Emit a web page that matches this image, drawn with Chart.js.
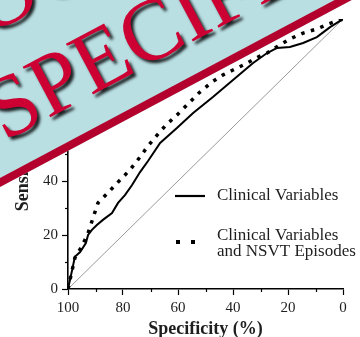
<!DOCTYPE html>
<html>
<head>
<meta charset="utf-8">
<script src="https://cdn.jsdelivr.net/npm/chart.js@4.4.1/dist/chart.umd.min.js"></script>
<style>
  html, body { margin: 0; padding: 0; background: #fff; }
  canvas { display: block; }
</style>
</head>
<body>
<canvas id="rocChart" width="360" height="337"></canvas>
<script>
// ROC curves (specificity axis runs 100 -> 0)
const specClinical = [100, 98.5, 97.5, 95.6, 93.5, 92.7, 91.3, 89.5, 87.3, 84.0, 81.8, 79.3, 76.7, 73.8, 70.9, 66.5, 60.4, 54.5, 47.3, 40.0, 32.7, 27.6, 24.0, 19.3, 14.5, 9.5, 4.7, 0];
const sensClinical = [0, 7.0, 11.9, 13.7, 17.0, 20.0, 21.9, 23.7, 25.6, 28.1, 31.9, 34.8, 38.5, 43.3, 47.4, 54.1, 59.6, 65.2, 71.1, 77.4, 83.7, 87.4, 89.3, 89.6, 91.1, 93.3, 97.0, 100];

const specNsvt = [100, 97.5, 94.9, 92.7, 90.9, 89.1, 85.5, 81.8, 77.5, 73.8, 70.9, 67.6, 64.4, 60.0, 56.0, 52.4, 47.6, 43.6, 40.0, 35.6, 30.9, 27.6, 23.6, 19.3, 14.5, 9.5, 5.5, 0];
const sensNsvt = [0, 11.5, 15.9, 20.7, 26.3, 31.9, 35.6, 39.6, 44.1, 48.9, 53.0, 57.0, 60.7, 64.8, 68.9, 72.6, 76.7, 79.3, 81.1, 83.3, 85.9, 87.4, 90.0, 92.6, 94.8, 96.3, 98.1, 100];

const chanceSpec = [100, 0];
const chanceSens = [0, 100];

const majorTicks = [0, 20, 40, 60, 80, 100];
const minorTicks = [10, 30, 50, 70, 90];

const seriesLabels = ['Clinical Variables', ['Clinical Variables', 'and NSVT Episodes']];
const bannerLines = ['COUNTRY', 'SPECIFIC'];

const SERIF = '"Liberation Serif", "Times New Roman", serif';
const INK = '#1e1e1e';

const toPoints = (xs, ys) => xs.map((x, i) => ({ x, y: ys[i] }));

// minor ticks, legend and the stamp banner drawn on top
const overlay = {
  id: 'overlay',
  afterDraw(chart) {
    const { ctx, chartArea } = chart;
    const xs = chart.scales.x, ys = chart.scales.y;

    ctx.save();
    ctx.strokeStyle = '#000';
    ctx.lineWidth = 1.2;
    minorTicks.forEach(v => {
      const px = Math.round(xs.getPixelForValue(v)) + 0.5;
      ctx.beginPath();
      ctx.moveTo(px, chartArea.bottom);
      ctx.lineTo(px, chartArea.bottom + 3);
      ctx.stroke();
      const py = Math.round(ys.getPixelForValue(v)) + 0.5;
      ctx.beginPath();
      ctx.moveTo(chartArea.left, py);
      ctx.lineTo(chartArea.left - 3, py);
      ctx.stroke();
    });

    // legend
    ctx.lineWidth = 2.2;
    ctx.beginPath();
    ctx.moveTo(175, 196);
    ctx.lineTo(205, 196);
    ctx.stroke();
    ctx.fillStyle = '#000';
    ctx.fillRect(176, 240, 4, 4);
    ctx.fillRect(191, 240, 4, 4);

    ctx.fillStyle = INK;
    ctx.font = '17px ' + SERIF;
    ctx.textBaseline = 'middle';
    ctx.textAlign = 'left';
    ctx.fillText(seriesLabels[0], 217, 196);
    ctx.fillText(seriesLabels[1][0], 217, 236);
    ctx.fillText(seriesLabels[1][1], 217, 252);
    ctx.restore();

    drawBanner(ctx);
  }
};

function drawBanner(ctx) {
  ctx.save();
  ctx.translate(0, 187);
  ctx.rotate(-28 * Math.PI / 180);
  ctx.fillStyle = '#b9dfe3';
  ctx.fillRect(-300, -500, 1400, 500);
  ctx.fillStyle = '#b3002c';
  ctx.fillRect(-300, -8, 1400, 8);

  ctx.font = '88px ' + SERIF;
  ctx.textBaseline = 'alphabetic';
  ctx.textAlign = 'left';
  ctx.shadowColor = 'rgba(0,0,0,0.85)';
  ctx.shadowBlur = 3;
  ctx.shadowOffsetX = 3;
  ctx.shadowOffsetY = 3;
  ctx.fillStyle = '#cc0033';
  ctx.fillText(bannerLines[0], 2, -139);
  ctx.fillText(bannerLines[1], 25, -38);
  ctx.restore();
}

function axis(titleText, fitSize, isX) {
  return {
    type: 'linear',
    min: 0,
    max: 100,
    reverse: isX,
    afterBuildTicks: s => { s.ticks = majorTicks.map(v => ({ value: v })); },
    afterFit: s => { if (isX) s.height = fitSize; else s.width = fitSize; },
    ticks: {
      color: INK,
      font: { family: SERIF, size: 15 },
      padding: 4,
      maxRotation: 0
    },
    grid: {
      display: true,
      drawOnChartArea: false,
      drawTicks: true,
      tickLength: 6,
      tickWidth: 1.2,
      tickColor: '#000'
    },
    border: { display: true, color: '#000', width: 1.6 },
    title: {
      display: true,
      text: titleText,
      color: INK,
      font: { family: SERIF, size: 18, weight: 'bold', lineHeight: isX ? 0.8 : 1.2 },
      padding: isX ? { top: 0, bottom: 0 } : { top: 13, bottom: 0 }
    }
  };
}

new Chart(document.getElementById('rocChart'), {
  type: 'line',
  data: {
    datasets: [
      {
        label: 'Clinical Variables',
        data: toPoints(specClinical, sensClinical),
        borderColor: '#000',
        borderWidth: 2,
        pointRadius: 0,
        tension: 0
      },
      {
        label: 'Clinical Variables and NSVT Episodes',
        data: toPoints(specNsvt, sensNsvt),
        borderColor: '#000',
        borderWidth: 3.5,
        borderDash: [3.5, 6.5],
        borderCapStyle: 'butt',
        pointRadius: 0,
        tension: 0
      },
      {
        label: 'Chance',
        data: toPoints(chanceSpec, chanceSens),
        borderColor: '#9a9a9a',
        borderWidth: 1,
        pointRadius: 0,
        tension: 0
      }
    ]
  },
  options: {
    responsive: false,
    animation: false,
    devicePixelRatio: 1,
    layout: { padding: { top: 19, right: 17, left: 0, bottom: 0 } },
    scales: {
      x: axis('Specificity (%)', 48, true),
      y: axis('Sensitivity (%)', 68, false)
    },
    plugins: {
      legend: { display: false },
      tooltip: { enabled: false }
    }
  },
  plugins: [overlay]
});
</script>
</body>
</html>
